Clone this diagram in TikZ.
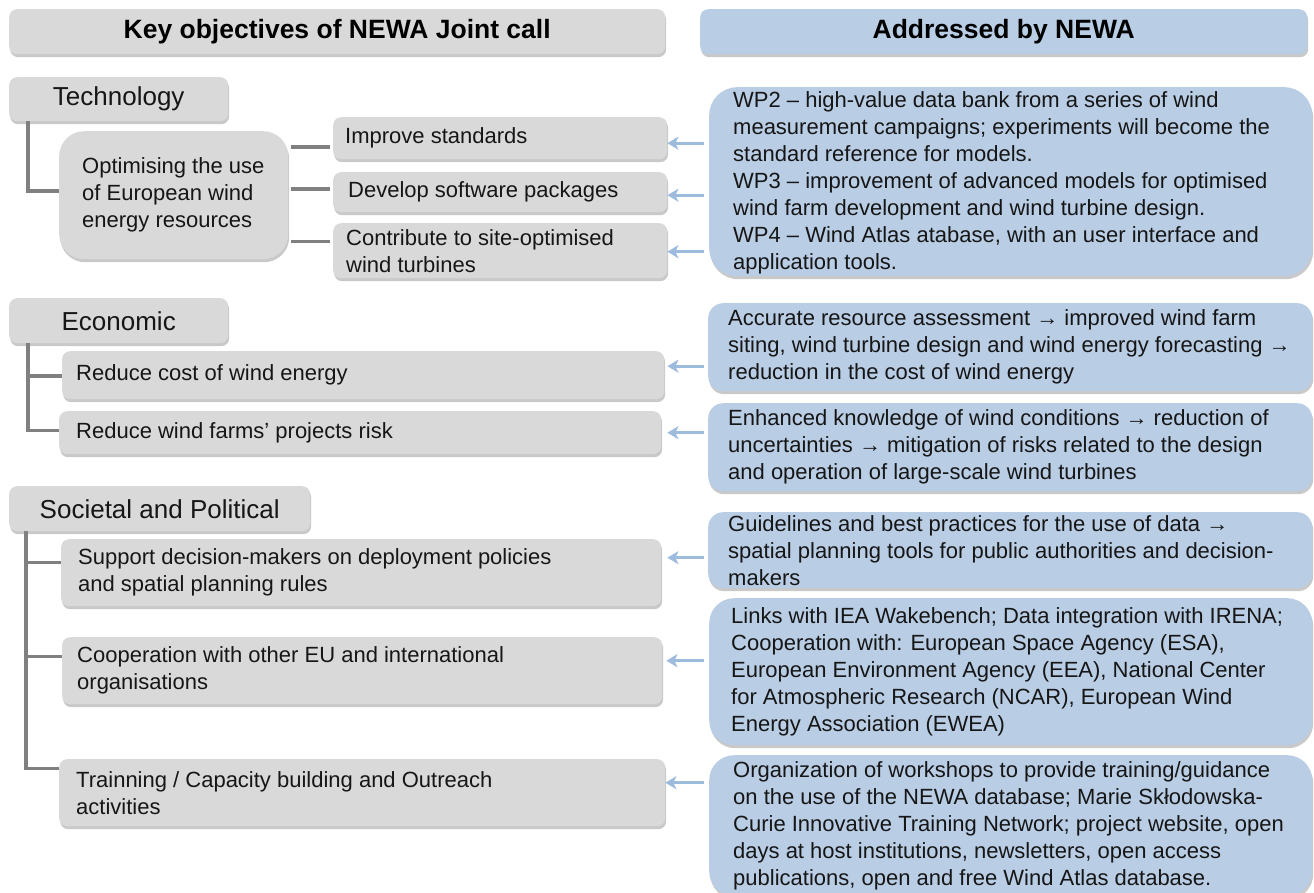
\documentclass[tikz,border=0pt]{standalone}
\usepackage{fontspec}
\setmainfont{Liberation Sans}
\usetikzlibrary{arrows.meta,shadows,calc}
\definecolor{gfill}{HTML}{D9D9D9}
\definecolor{bfill}{HTML}{B9CDE5}
\definecolor{conncol}{HTML}{808080}
\definecolor{arrcol}{HTML}{9DBBDC}
\definecolor{txt}{HTML}{161616}
\begin{document}
\begin{tikzpicture}[x=1pt,y=-1pt,
  basebox/.style={rectangle, rounded corners=#1, inner sep=0pt, anchor=north west,
    drop shadow={shadow xshift=1pt,shadow yshift=-3pt,opacity=0.28,fill=black!75}},
  gb/.style={basebox=#1, fill=gfill},
  gb/.default=8pt,
  bb/.style={basebox=#1, fill=bfill},
  bb/.default=22pt,
  tx/.style={inner sep=0pt, anchor=west, align=left, text=txt, font=\fontsize{22}{27}\selectfont},
  hd/.style={inner sep=0pt, text=txt, font=\fontsize{26}{30}\selectfont},
  hb/.style={inner sep=0pt, text=black, font=\fontsize{26.5}{30}\selectfont\bfseries},
  conn/.style={draw=conncol, line width=3.5pt},
  arr/.style={draw=arrcol, line width=3pt, -{Stealth[length=11pt,width=13pt,inset=3pt]}}
]
\useasboundingbox (0,0) rectangle (1314,892);
\fill[white] (0,0) rectangle (1314,892);

% headers
\node[gb, minimum width=656pt, minimum height=45pt] (hl) at (9,9) {};
\node[hb] (hlt) at (hl.center) {Key objectives of NEWA Joint call};
\node[bb=8pt, minimum width=607pt, minimum height=45pt] (hr) at (700,9) {};
\node[hb] (hrt) at (hr.center) {Addressed by NEWA};

% Technology
\node[gb, minimum width=219pt, minimum height=44pt] (tech) at (9,77) {};
\node[hd] (techt) at (tech.center) {Technology};
\node[gb=25pt, minimum width=229pt, minimum height=128pt] (opt) at (59,131) {};
\node[tx] (optt) at ($(opt.west)+(23,0)$) {Optimising the use\\of European wind\\energy resources};
\node[gb, minimum width=334pt, minimum height=42pt] (improve) at (333,117) {};
\node[tx] (improvet) at ($(improve.west)+(12,0)$) {Improve standards};
\node[gb, minimum width=334pt, minimum height=40pt] (develop) at (333,172) {};
\node[tx] (developt) at ($(develop.west)+(15,0)$) {Develop software packages};
\node[gb, minimum width=334pt, minimum height=55pt] (contrib) at (333,223) {};
\node[tx] (contribt) at ($(contrib.west)+(13,0)$) {Contribute to site-optimised\\wind turbines};

% Economic
\node[gb, minimum width=219pt, minimum height=45pt] (econ) at (9,298) {};
\node[hd] (econt) at (econ.center) {Economic};
\node[gb, minimum width=602pt, minimum height=48pt] (cost) at (62,351) {};
\node[tx] (costt) at ($(cost.west)+(14,0)$) {Reduce cost of wind energy};
\node[gb, minimum width=602pt, minimum height=43pt] (risk) at (59,411) {};
\node[tx] (riskt) at ($(risk.west)+(17,0)$) {Reduce wind farms’ projects risk};

% Societal
\node[gb, minimum width=301pt, minimum height=45pt] (soc) at (9,486) {};
\node[hd] (soct) at (soc.center) {Societal and Political};
\node[gb, minimum width=600pt, minimum height=67pt] (support) at (61,539) {};
\node[tx] (supportt) at ($(support.west)+(17,0)$) {Support decision-makers on deployment policies\\and spatial planning rules};
\node[gb, minimum width=600pt, minimum height=67pt] (coop) at (62,637) {};
\node[tx] (coopt) at ($(coop.west)+(15,0)$) {Cooperation with other EU and international\\organisations};
\node[gb, minimum width=606pt, minimum height=67pt] (train) at (59,759) {};
\node[tx] (traint) at ($(train.west)+(17,0)$) {Trainning / Capacity building and Outreach\\activities};

% right column
\node[bb=28pt, minimum width=603pt, minimum height=189pt] (wp) at (709,87) {};
\node[tx] (wpt) at ($(wp.west)+(24,1)$) {WP2 – high-value data bank from a series of wind\\measurement campaigns; experiments will become the\\standard reference for models.\\WP3 – improvement of advanced models for optimised\\wind farm development and wind turbine design.\\WP4 – Wind Atlas atabase, with an user interface and\\application tools.};
\node[bb=15pt, minimum width=604pt, minimum height=88pt] (acc) at (708,303) {};
\node[tx] (acct) at ($(acc.west)+(20,0)$) {Accurate resource assessment → improved wind farm\\siting, wind turbine design and wind energy forecasting →\\reduction in the cost of wind energy};
\node[bb=15pt, minimum width=604pt, minimum height=88pt] (enh) at (708,403) {};
\node[tx] (enht) at ($(enh.west)+(20,0)$) {Enhanced knowledge of wind conditions → reduction of\\uncertainties → mitigation of risks related to the design\\and operation of large-scale wind turbines};
\node[bb=15pt, minimum width=604pt, minimum height=76pt] (guide) at (708,512) {};
\node[tx] (guidet) at ($(guide.west)+(20,0)$) {Guidelines and best practices for the use of data →\\spatial planning tools for public authorities and decision-\\makers};
\node[bb=25pt, minimum width=603pt, minimum height=147pt] (links) at (709,598) {};
\node[tx] (linkst) at ($(links.west)+(22,0)$) {Links with IEA Wakebench; Data integration with IRENA;\\Cooperation with: European Space Agency (ESA),\\European Environment Agency (EEA), National Center\\for Atmospheric Research (NCAR), European Wind\\Energy Association (EWEA)};
\node[bb=25pt, minimum width=603pt, minimum height=141pt] (org) at (709,755) {};
\node[tx] (orgt) at ($(org.west)+(24,0)$) {Organization of workshops to provide training/guidance\\on the use of the NEWA database; Marie Skłodowska-\\Curie Innovative Training Network; project website, open\\days at host institutions, newsletters, open access\\publications, open and free Wind Atlas database.};

% gray connectors
\draw[conn] ($(tech.south west)+(19,0)$) |- ($(opt.west)+(0,-4)$);
\draw[conn] ($(opt.east |- improve.west)+(3,9)$) -- ($(improve.west)+(-3,9)$);
\draw[conn] ($(opt.east |- develop.west)+(3,-3)$) -- ($(develop.west)+(-3,-3)$);
\draw[conn] ($(opt.east |- contrib.west)+(3,-9)$) -- ($(contrib.west)+(-3,-9)$);
\draw[conn] ($(econ.south west)+(19,0)$) |- ($(risk.west)+(0,-2)$);
\draw[conn] ($(econ.south west)+(19,0)$) |- ($(cost.west)+(0,1)$);
\draw[conn] ($(soc.south west)+(17,0)$) |- ($(train.west)+(0,-24)$);
\draw[conn] ($(soc.south west)+(17,0)$) |- ($(support.west)+(0,-10)$);
\draw[conn] ($(soc.south west)+(17,0)$) |- ($(coop.west)+(0,-14)$);

% blue arrows
\draw[arr] ($(improve.east -| wp.west)+(-5,5)$) -- ($(improve.east)+(0,5)$);
\draw[arr] ($(develop.east -| wp.west)+(-5,3)$) -- ($(develop.east)+(0,3)$);
\draw[arr] ($(contrib.east -| wp.west)+(-5,1)$) -- ($(contrib.east)+(0,1)$);
\draw[arr] ($(cost.east -| acc.west)+(-4,-9)$) -- ($(cost.east)+(3,-9)$);
\draw[arr] ($(risk.east -| enh.west)+(-4,0)$) -- ($(risk.east)+(6,0)$);
\draw[arr] ($(support.east -| guide.west)+(-4,-15)$) -- ($(support.east)+(6,-15)$);
\draw[arr] ($(coop.east -| links.west)+(-5,-10)$) -- ($(coop.east)+(4,-10)$);
\draw[arr] ($(train.east -| org.west)+(-5,-10)$) -- ($(train.east)+(0,-10)$);
\end{tikzpicture}
\end{document}
